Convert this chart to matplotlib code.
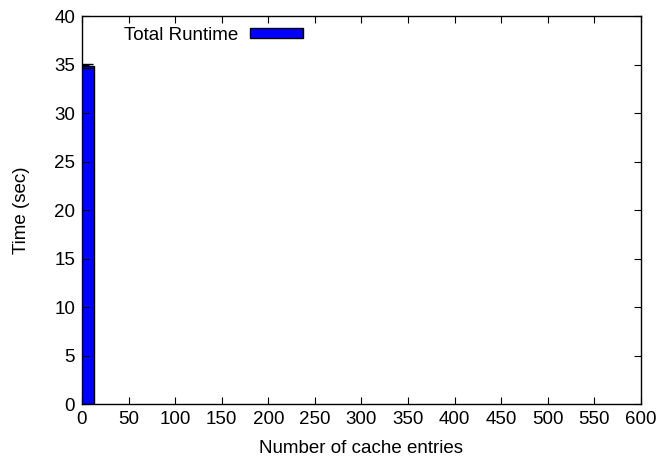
import matplotlib
matplotlib.use("Agg")
import matplotlib.pyplot as plt

plt.rcParams['font.family'] = ['Liberation Sans', 'DejaVu Sans']

cache_entries = [0]
runtime = [34.85]
runtime_err = [0.2]
series_label = "Total Runtime"

fig = plt.figure(figsize=(6.59, 4.59), dpi=100)
ax = fig.add_axes([0.1244, 0.1198, 0.9727 - 0.1244, 0.965 - 0.1198])

ax.bar(cache_entries, runtime, width=26, color='#0000ff', edgecolor='black',
       linewidth=1.0, label=series_label)
ax.errorbar(cache_entries, runtime, yerr=runtime_err, fmt='none', ecolor='black',
            elinewidth=1.0, capsize=8, capthick=1.0)

ax.set_xlim(0, 600)
ax.set_ylim(0, 40)
ax.set_xticks(range(0, 601, 50))
ax.set_yticks(range(0, 41, 5))
ax.tick_params(direction='in', top=True, right=True, labelsize=13.5, length=5, width=0.8, pad=5)
for s in ax.spines.values():
    s.set_linewidth(1.0)
ax.set_xlabel("Number of cache entries", fontsize=13.5, labelpad=9)
ax.set_ylabel("Time (sec)", fontsize=13.5, labelpad=17.5)

ax.legend(loc='upper left', bbox_to_anchor=(0.0445, 1.016), frameon=False, markerfirst=False,
          fontsize=13.5, handlelength=2.83, handleheight=0.5, handletextpad=0.65)

fig.savefig("out.png", dpi=100)
